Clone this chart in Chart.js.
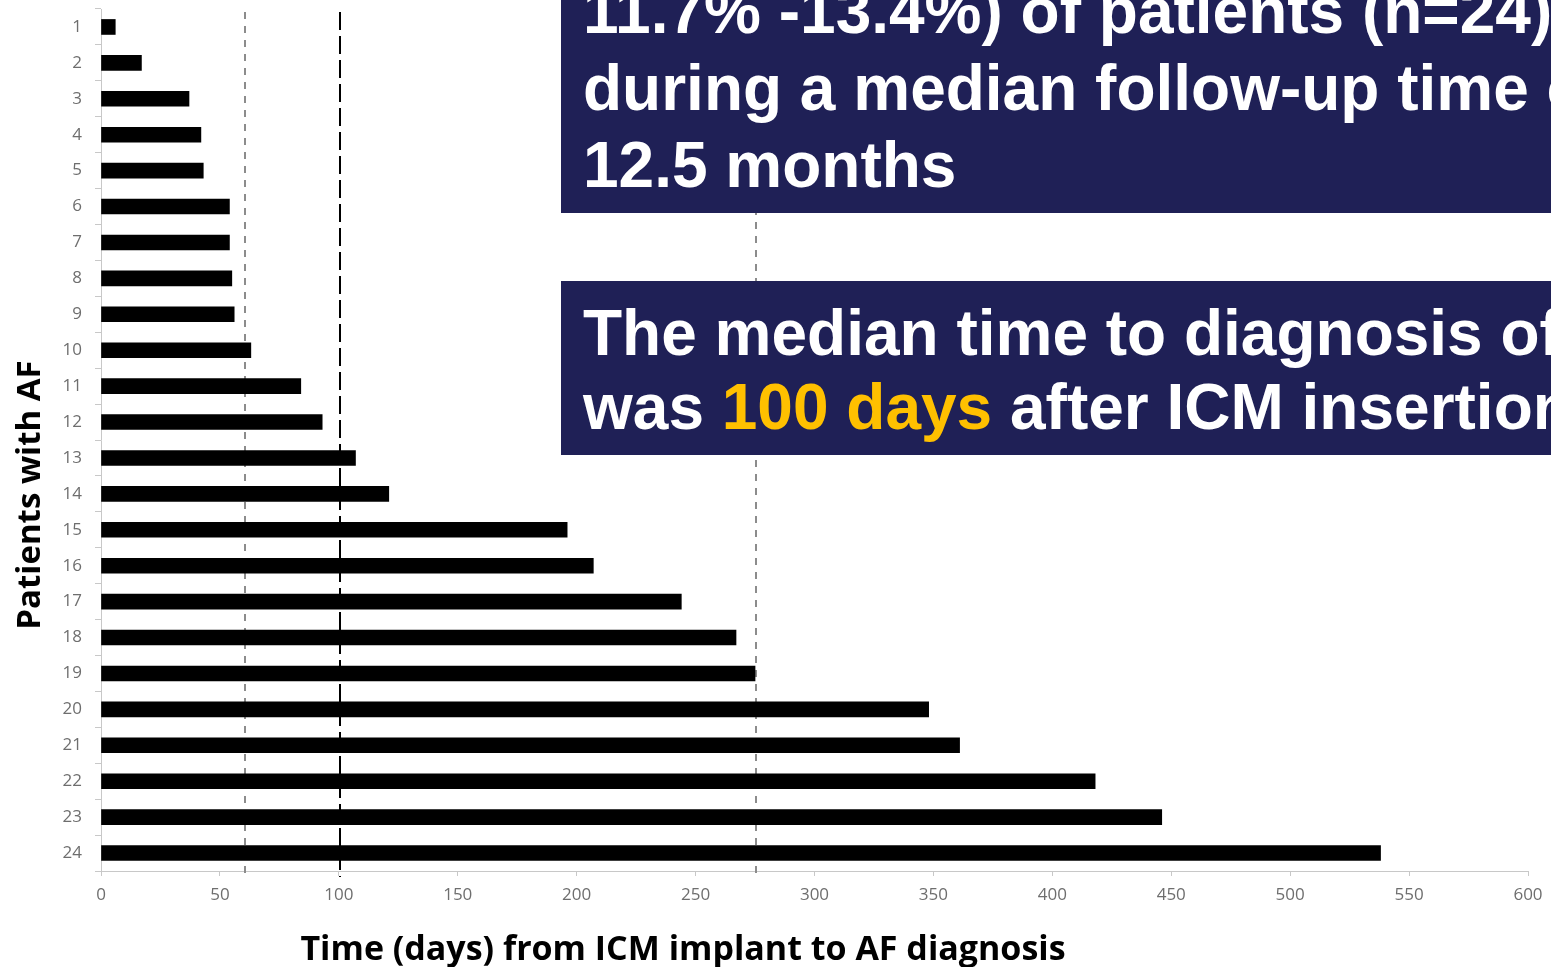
<!DOCTYPE html>
<html>
<head>
<meta charset="utf-8">
<title>Time to AF diagnosis</title>
<script src="https://cdn.jsdelivr.net/npm/chart.js@4.4.1/dist/chart.umd.min.js"></script>
<style>
  body { margin: 0; background: #fff; }
  #wrap { position: relative; width: 1551px; height: 967px; overflow: hidden; }
  .box {
    position: absolute;
    left: 561px;
    width: 990px;
    background: #1f2056;
    overflow: hidden;
    white-space: nowrap;
    color: #fff;
    font-family: "Liberation Sans", Arial, sans-serif;
    font-weight: bold;
    font-size: 64px;
  }
  .box .txt { position: absolute; left: 22px; }
  .hl { color: #ffc000; }
</style>
</head>
<body>
<div id="wrap">
  <canvas id="chartAF" width="1551" height="967"></canvas>

  <div class="box" style="top:0; height:213px;">
    <div class="txt" style="top:-27px; line-height:77px;">
      11.7% -13.4%) of patients (n=24)<br>
      during a median follow-up time of<br>
      12.5 months
    </div>
  </div>

  <div class="box" style="top:281px; height:174px;">
    <div class="txt" style="top:15px; line-height:74px;">
      The median time to diagnosis of AF<br>
      was <span class="hl">100 days</span> after ICM insertion
    </div>
  </div>
</div>

<script>
  // patients with AF, in order of time to diagnosis
  const patients = ['1','2','3','4','5','6','7','8','9','10','11','12',
                    '13','14','15','16','17','18','19','20','21','22','23','24'];
  const days = [6, 17, 37, 42, 43, 54, 54, 55, 56, 63, 84, 93,
                107, 121, 196, 207, 244, 267, 275, 348, 361, 418, 446, 538];

  // vertical reference lines (days)
  const refDays = [60, 100, 275];
  const refColors = ['#8c8c8c', '#000000', '#8c8c8c'];
  const refDashes = [[7, 7], [18, 6], [7, 7]];

  const xTicks = [0, 50, 100, 150, 200, 250, 300, 350, 400, 450, 500, 550, 600];

  const xTitle = 'Time (days) from ICM implant to AF diagnosis';
  const yTitle = 'Patients with AF';

  // dashed lines behind the bars
  const refLines = {
    id: 'refLines',
    beforeDatasetsDraw(chart) {
      const ctx = chart.ctx;
      const x = chart.scales.x;
      const area = chart.chartArea;
      ctx.save();
      ctx.lineWidth = 2;
      refDays.forEach(function (d, i) {
        const px = Math.round(x.getPixelForValue(d)) + 1;
        ctx.strokeStyle = refColors[i];
        ctx.setLineDash(refDashes[i]);
        ctx.beginPath();
        ctx.moveTo(px, area.top + 3);
        ctx.lineTo(px, area.bottom + 6);
        ctx.stroke();
      });
      ctx.restore();
    }
  };

  // axis titles sit off-centre in the original, so they are drawn here
  const axisTitles = {
    id: 'axisTitles',
    afterDraw(chart) {
      const ctx = chart.ctx;
      ctx.save();
      ctx.fillStyle = '#000';
      ctx.font = 'bold 34px "Open Sans", sans-serif';
      ctx.textAlign = 'center';
      ctx.textBaseline = 'alphabetic';
      ctx.fillText(xTitle, 683, 960);

      ctx.translate(40, 495);
      ctx.rotate(-Math.PI / 2);
      ctx.font = 'bold 33px "Open Sans", sans-serif';
      ctx.fillText(yTitle, 0, 0);
      ctx.restore();
    }
  };

  const ctxAF = document.getElementById('chartAF').getContext('2d');
  const chartAF = new Chart(ctxAF, {
    type: 'bar',
    data: {
      labels: patients,
      datasets: [{
        data: days,
        backgroundColor: '#000',
        barThickness: 15
      }]
    },
    options: {
      indexAxis: 'y',
      responsive: false,
      animation: false,
      events: [],
      layout: { padding: { top: 9, right: 23, left: 0, bottom: 0 } },
      plugins: {
        legend: { display: false },
        tooltip: { enabled: false }
      },
      scales: {
        x: {
          type: 'linear',
          min: 0,
          max: 600,
          afterFit(scale) {
            scale.height = 96;
            scale.paddingLeft = 0;
            scale.paddingRight = 0;
          },
          afterBuildTicks(scale) { scale.ticks = xTicks.map(v => ({ value: v })); },
          border: { color: '#c8c8c8', width: 1 },
          grid: { drawOnChartArea: false, color: '#c8c8c8', tickLength: 5 },
          ticks: {
            color: '#6e6e6e',
            font: { family: '"Open Sans", sans-serif', size: 17 },
            padding: 9,
            maxRotation: 0
          }
        },
        y: {
          afterFit(scale) {
            scale.width = 101;
            scale.paddingTop = 0;
            scale.paddingBottom = 0;
          },
          border: { color: '#c8c8c8', width: 1 },
          grid: { drawOnChartArea: false, color: '#c8c8c8', tickLength: 6, offset: true },
          ticks: {
            color: '#6e6e6e',
            font: { family: '"Open Sans", sans-serif', size: 17 },
            padding: 13
          }
        }
      }
    },
    plugins: [refLines, axisTitles]
  });
</script>
</body>
</html>
